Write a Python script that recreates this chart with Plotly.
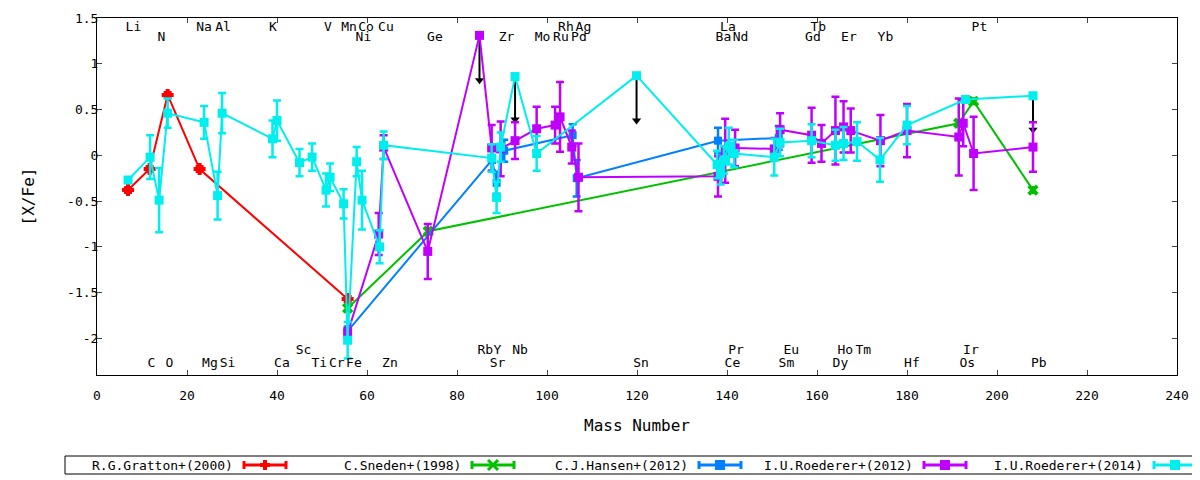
import plotly.graph_objects as go

# ---- data ----
gratton_x = [6.9, 11.7, 15.7, 22.8, 55.7]
gratton_y = [-0.38, -0.15, 0.66, -0.15, -1.57]
gratton_err = [0.03, 0.03, 0.03, 0.03, 0.03]

sneden_x = [55.7, 73.6, 191.5, 194.8, 208.0]
sneden_y = [-1.67, -0.83, 0.35, 0.59, -0.38]
sneden_err = [0.03, 0.03, 0.03, 0.03, 0.03]

hansen_x = [55.7, 87.8, 88.8, 90.5, 105.7, 106.6, 138.0, 151.5]
hansen_y = [-1.92, -0.05, -0.30, 0.05, 0.22, -0.25, 0.16, 0.19]
hansen_err = [0.05, 0.12, 0.12, 0.12, 0.12, 0.20, 0.14, 0.13]

roed12_x = [55.7, 62.6, 63.7, 73.5, 85.0, 87.7, 89.7, 92.9, 97.7, 101.8,
            102.9, 105.5, 107.0, 138.0, 139.6, 141.8, 150.5, 151.8, 158.8,
            161.0, 164.1, 165.9, 167.5, 174.1, 180.0, 191.5, 192.5, 194.8,
            208.0]
roed12_y = [-1.94, -0.86, 0.09, -1.05, 1.31, 0.08, 0.07, 0.16, 0.29, 0.33,
            0.42, 0.09, -0.24, -0.23, 0.05, 0.08, 0.07, 0.28, 0.22,
            0.13, 0.27, 0.31, 0.27, 0.16, 0.27, 0.20, 0.35, 0.02,
            0.09]
roed12_err = [0.05, 0.23, 0.13, 0.30, 0.0, 0.25, 0.30, 0.20, 0.24, 0.20,
              0.38, 0.18, 0.37, 0.22, 0.35, 0.20, 0.12, 0.18, 0.30,
              0.20, 0.37, 0.28, 0.24, 0.28, 0.29, 0.42, 0.25, 0.40,
              0.27]

roed14_x = [6.9, 11.8, 13.8, 15.7, 23.8, 26.8, 27.8, 39.0, 40.0, 45.0,
            47.8, 50.9, 51.8, 54.8, 55.7, 57.7, 58.9, 62.8, 63.7, 87.7,
            88.8, 89.7, 92.9, 97.7, 119.9, 137.8, 138.6, 139.3, 140.4,
            141.6, 150.5, 151.8, 158.8, 164.1, 165.9, 168.9, 174.0, 180.0,
            193.0, 208.0]
roed14_y = [-0.27, -0.02, -0.49, 0.46, 0.36, -0.44, 0.46, 0.18, 0.38, -0.08,
            -0.02, -0.38, -0.24, -0.53, -2.02, -0.07, -0.49, -1.00, 0.11, -0.03,
            -0.46, 0.09, 0.86, 0.02, 0.87, -0.10, -0.20, -0.05, 0.10,
            0.02, -0.02, 0.14, 0.16, 0.11, 0.13, 0.15, -0.05, 0.33,
            0.61, 0.65]
roed14_err = [0.0, 0.24, 0.35, 0.16, 0.18, 0.26, 0.22, 0.20, 0.22, 0.15,
              0.15, 0.18, 0.15, 0.16, 0.20, 0.16, 0.32, 0.18, 0.15, 0.15,
              0.17, 0.16, 0.0, 0.19, 0.0, 0.15, 0.12, 0.15, 0.20,
              0.15, 0.20, 0.15, 0.18, 0.17, 0.18, 0.21, 0.24, 0.21,
              0.03, 0.03]

# upper limits (black arrows)
ul_x = [85.0, 92.9, 119.9, 208.0]
ul_from = [1.31, 0.86, 0.87, 0.65]
ul_to = [0.82, 0.39, 0.38, 0.28]

# element labels: top rows and bottom rows
top_hi_el = ["Li", "Na", "Al", "K", "V", "Mn", "Co", "Cu", "Rh", "Ag", "La", "Tb", "Pt"]
top_hi_x = [8.1, 23.8, 28.0, 39.1, 51.3, 56.0, 59.8, 64.2, 104.2, 108.1, 140.2, 160.3, 196.1]
top_lo_el = ["N", "Ni", "Ge", "Zr", "Mo", "Ru", "Pd", "Ba", "Nd", "Gd", "Er", "Yb"]
top_lo_x = [14.3, 59.2, 75.1, 91.0, 99.0, 103.1, 107.1, 139.2, 143.0, 159.1, 167.1, 175.2]
bot_hi_el = ["Sc", "Rb", "Y", "Nb", "Pr", "Eu", "Ho", "Tm", "Ir"]
bot_hi_x = [45.9, 86.3, 89.0, 94.0, 142.0, 154.3, 166.3, 170.3, 194.2]
bot_lo_el = ["C", "O", "Mg", "Si", "Ca", "Ti", "Cr", "Fe", "Zn", "Sr", "Sn", "Ce",
             "Sm", "Dy", "Hf", "Os", "Pb"]
bot_lo_x = [12.1, 16.1, 25.1, 29.0, 41.1, 49.4, 53.3, 57.1, 65.1, 89.0, 120.9, 141.2,
            153.2, 165.2, 181.1, 193.4, 209.3]
row_y = {"top_hi": 1.39, "top_lo": 1.28, "bot_hi": -2.13, "bot_lo": -2.28}

y_ticks = [-2, -1.5, -1, -0.5, 0, 0.5, 1, 1.5]
y_ticktext = ["-2", "-1.5", "-1", "-0.5", "0", "0.5", "1", "1.5"]
x_ticks = [0, 20, 40, 60, 80, 100, 120, 140, 160, 180, 200, 220, 240]

FONT = "DejaVu Sans Mono"

series = [
    ("R.G.Gratton+(2000)", gratton_x, gratton_y, gratton_err, "#ff0000", "cross", 10),
    ("C.Sneden+(1998)", sneden_x, sneden_y, sneden_err, "#00c000", "x", 10),
    ("C.J.Hansen+(2012)", hansen_x, hansen_y, hansen_err, "#0080ff", "square", 8),
    ("I.U.Roederer+(2012)", roed12_x, roed12_y, roed12_err, "#c000ff", "square", 9),
    ("I.U.Roederer+(2014)", roed14_x, roed14_y, roed14_err, "#00eeee", "square", 9),
]

fig = go.Figure()

# upper-limit arrows, drawn first so they sit behind the data
stem_x, stem_y = [], []
for x, y0, y1 in zip(ul_x, ul_from, ul_to):
    stem_x += [x, x, None]
    stem_y += [y0, y1, None]
fig.add_trace(go.Scatter(x=stem_x, y=stem_y, mode="lines", showlegend=False,
                         hoverinfo="skip", line=dict(color="black", width=2)))
fig.add_trace(go.Scatter(x=ul_x, y=ul_to, mode="markers", showlegend=False,
                         hoverinfo="skip",
                         marker=dict(symbol="triangle-down", size=8, color="black")))

for name, xs, ys, errs, col, sym, size in series:
    fig.add_trace(go.Scatter(
        x=xs, y=ys, name=name, mode="lines+markers", showlegend=False,
        line=dict(color=col, width=2),
        marker=dict(symbol=sym, size=size, color=col, line=dict(width=0)),
        error_y=dict(type="data", array=errs, visible=True,
                     color=col, thickness=2.5, width=4),
    ))

# element name labels
for key, els, xs in [("top_hi", top_hi_el, top_hi_x), ("top_lo", top_lo_el, top_lo_x),
                     ("bot_hi", bot_hi_el, bot_hi_x), ("bot_lo", bot_lo_el, bot_lo_x)]:
    fig.add_trace(go.Scatter(
        x=xs, y=[row_y[key]] * len(xs), text=els, mode="text",
        textposition="middle center", showlegend=False, hoverinfo="skip",
        textfont=dict(family=FONT, size=13, color="black"),
    ))

# ---- gnuplot-style key below the plot (text first, sample after) ----
# plot area on screen: x 97..1177, y 18..375
def px(sx):
    return (sx - 97) / 1080.0

def py(sy):
    return (375 - sy) / 357.0

key_text_end = [235, 463, 690, 915, 1145]
key_y = 465
fig.add_shape(type="rect", xref="paper", yref="paper",
              x0=px(65), x1=px(1230), y0=py(474), y1=py(456),
              line=dict(color="black", width=1))
for (name, _, _, _, col, sym, _), xe in zip(series, key_text_end):
    fig.add_annotation(x=px(xe), y=py(key_y), xref="paper", yref="paper",
                       text=name, showarrow=False, xanchor="right", yanchor="middle",
                       font=dict(family=FONT, size=13, color="black"))
    s0, s1 = xe + 9, xe + 51
    mid = (s0 + s1) / 2
    fig.add_shape(type="line", xref="paper", yref="paper",
                  x0=px(s0), x1=px(s1), y0=py(key_y), y1=py(key_y),
                  line=dict(color=col, width=3))
    for sx in (s0, s1):
        fig.add_shape(type="line", xref="paper", yref="paper",
                      x0=px(sx), x1=px(sx), y0=py(key_y - 4), y1=py(key_y + 4),
                      line=dict(color=col, width=3))
    if sym == "square":
        fig.add_shape(type="rect", xref="paper", yref="paper",
                      x0=px(mid - 5), x1=px(mid + 5), y0=py(key_y + 5), y1=py(key_y - 5),
                      line=dict(width=0), fillcolor=col)
    elif sym == "cross":
        fig.add_shape(type="rect", xref="paper", yref="paper",
                      x0=px(mid - 5), x1=px(mid + 5), y0=py(key_y + 2), y1=py(key_y - 2),
                      line=dict(width=0), fillcolor=col)
        fig.add_shape(type="rect", xref="paper", yref="paper",
                      x0=px(mid - 2), x1=px(mid + 2), y0=py(key_y + 5), y1=py(key_y - 5),
                      line=dict(width=0), fillcolor=col)
    else:
        for d in (-1, 1):
            fig.add_shape(type="line", xref="paper", yref="paper",
                          x0=px(mid - 5), x1=px(mid + 5),
                          y0=py(key_y - 5 * d), y1=py(key_y + 5 * d),
                          line=dict(color=col, width=3))

# the page body adds an 8px offset, margins compensate for it
fig.update_layout(
    width=1200, height=480,
    margin=dict(l=89, r=31, t=10, b=113, autoexpand=False),
    paper_bgcolor="white", plot_bgcolor="white",
    font=dict(family=FONT, size=13, color="black"),
    showlegend=False,
    xaxis=dict(
        range=[0, 240], tickvals=x_ticks, ticks="inside", ticklen=5,
        showline=True, linecolor="black", linewidth=1, mirror="ticks",
        showgrid=False, zeroline=False, automargin=False,
        ticklabelstandoff=8,
        title=dict(text="Mass Number", standoff=18),
    ),
    yaxis=dict(
        range=[-2.4, 1.5], tickvals=y_ticks, ticktext=y_ticktext,
        ticks="inside", ticklen=5,
        showline=True, linecolor="black", linewidth=1, mirror="ticks",
        showgrid=False, zeroline=False, automargin=False,
        ticklabelstandoff=-5,
        title=dict(text="[X/Fe]", standoff=28),
    ),
)

fig.write_html("out.html")
